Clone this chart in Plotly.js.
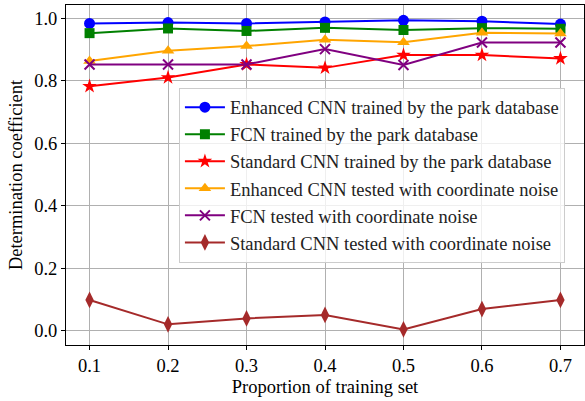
<!DOCTYPE html>
<html>
<head>
<meta charset="utf-8">
<script src="https://cdn.plot.ly/plotly-3.0.1.min.js"></script>
<style>html,body{margin:0;padding:0;background:#fff;}#chart{width:585px;height:401px;}</style>
</head>
<body>
<div id="chart"></div>
<script>
const proportions = [0.1, 0.2, 0.3, 0.4, 0.5, 0.6, 0.7];
const enhancedPark = [0.983, 0.986, 0.983, 0.988, 0.993, 0.990, 0.981];
const fcnPark = [0.952, 0.967, 0.959, 0.969, 0.962, 0.968, 0.966];
const standardPark = [0.782, 0.810, 0.852, 0.841, 0.882, 0.882, 0.871];
const enhancedNoise = [0.863, 0.896, 0.911, 0.931, 0.923, 0.953, 0.951];
const fcnNoise = [0.852, 0.852, 0.852, 0.901, 0.850, 0.922, 0.922];
const standardNoise = [0.099, 0.021, 0.040, 0.051, 0.005, 0.070, 0.099];
const seriesNames = [
  "Enhanced CNN trained by the park database",
  "FCN trained by the park database",
  "Standard CNN trained by the park database",
  "Enhanced CNN tested with coordinate noise",
  "FCN tested with coordinate noise",
  "Standard CNN tested with coordinate noise"
];

const styles = [
  {color: "#0000ff", symbol: "circle", size: 11},
  {color: "#008000", symbol: "square", size: 10},
  {color: "#ff0000", symbol: "star", size: 11},
  {color: "#ffa500", symbol: "triangle-up", size: 11},
  {color: "#800080", symbol: "x-thin-open", size: 10},
  {color: "#a52a2a", symbol: "diamond-tall", size: 12}
];
const allValues = [enhancedPark, fcnPark, standardPark, enhancedNoise, fcnNoise, standardNoise];

const traces = allValues.map((vals, i) => ({
  x: proportions,
  y: vals,
  name: seriesNames[i],
  type: "scatter",
  mode: "lines+markers",
  line: {color: styles[i].color, width: 2},
  marker: {
    color: styles[i].color,
    symbol: styles[i].symbol,
    size: styles[i].size,
    line: {color: styles[i].color, width: styles[i].symbol === "x-thin-open" ? 2 : 0}
  }
}));

const font = {family: "Liberation Serif, Times New Roman, serif", size: 18.5, color: "#000"};

const layout = {
  width: 585,
  height: 401,
  margin: {l: 66, r: 1, t: 5, b: 56},
  paper_bgcolor: "#fff",
  plot_bgcolor: "#fff",
  font: font,
  showlegend: true,
  legend: {
    x: 0.218, y: 0.757, xanchor: "left", yanchor: "top",
    bgcolor: "rgba(255,255,255,0.8)",
    bordercolor: "#cccccc",
    borderwidth: 1,
    font: {family: font.family, size: 18.5, color: "#222"},
    itemwidth: 40
  },
  xaxis: {
    range: [0.07, 0.73],
    tickvals: proportions,
    ticktext: proportions.map(v => v.toFixed(1)),
    showgrid: true, gridcolor: "#b0b0b0", gridwidth: 1,
    showline: true, linecolor: "#000", linewidth: 1, mirror: true,
    ticks: "outside", ticklen: 4, tickcolor: "#000",
    zeroline: false,
    title: {text: "Proportion of training set", font: font, standoff: 4}
  },
  yaxis: {
    range: [-0.045, 1.042],
    tickvals: [0, 0.2, 0.4, 0.6, 0.8, 1.0],
    ticktext: ["0.0", "0.2", "0.4", "0.6", "0.8", "1.0"],
    showgrid: true, gridcolor: "#b0b0b0", gridwidth: 1,
    showline: true, linecolor: "#000", linewidth: 1, mirror: true,
    ticks: "outside", ticklen: 4, tickcolor: "#000",
    zeroline: false,
    title: {text: "Determination coefficient", font: font, standoff: 6}
  }
};

Plotly.newPlot("chart", traces, layout, {displayModeBar: false, staticPlot: true});
</script>
</body>
</html>
